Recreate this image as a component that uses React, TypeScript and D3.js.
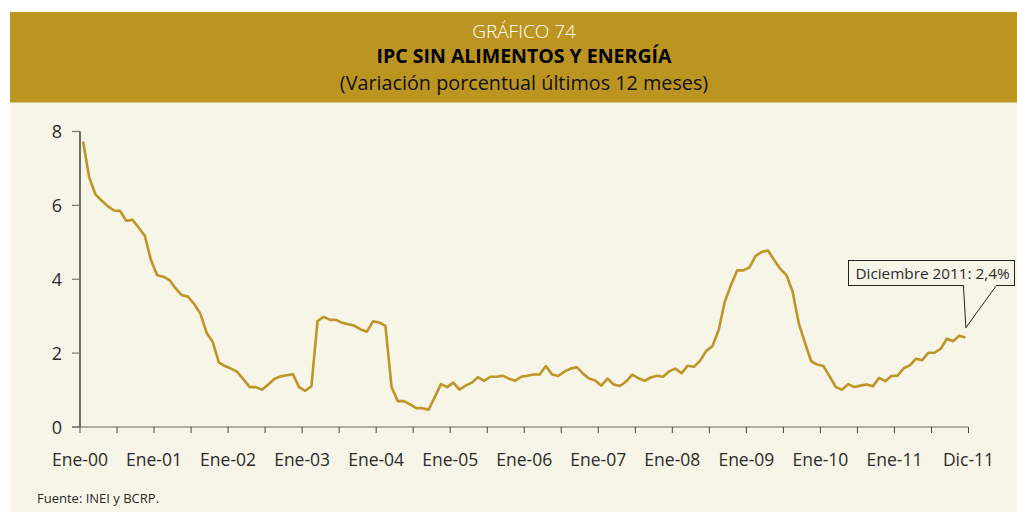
import React from "react";
import * as d3 from "d3";

const W = 1017;
const H = 512;

// Monthly values, Ene-2000 .. Dic-2011 (12-month % change)
const y2000 = [7.73, 6.75, 6.3, 6.13, 5.98, 5.86, 5.85, 5.58, 5.61, 5.4, 5.18, 4.52];
const y2001 = [4.11, 4.07, 3.98, 3.75, 3.57, 3.53, 3.33, 3.07, 2.56, 2.31, 1.75, 1.65];
const y2002 = [1.58, 1.49, 1.29, 1.08, 1.08, 1.01, 1.15, 1.3, 1.37, 1.4, 1.43, 1.08];
const y2003 = [0.98, 1.1, 2.87, 2.98, 2.9, 2.9, 2.82, 2.78, 2.74, 2.64, 2.58, 2.86];
const y2004 = [2.83, 2.74, 1.08, 0.7, 0.7, 0.61, 0.51, 0.51, 0.47, 0.81, 1.16, 1.08];
const y2005 = [1.2, 1.01, 1.12, 1.2, 1.35, 1.25, 1.36, 1.36, 1.39, 1.31, 1.25, 1.36];
const y2006 = [1.39, 1.42, 1.42, 1.65, 1.42, 1.38, 1.5, 1.58, 1.62, 1.45, 1.31, 1.26];
const y2007 = [1.12, 1.31, 1.15, 1.11, 1.23, 1.42, 1.32, 1.25, 1.34, 1.39, 1.36, 1.51];
const y2008 = [1.58, 1.46, 1.66, 1.63, 1.79, 2.06, 2.19, 2.62, 3.39, 3.84, 4.24, 4.24];
const y2009 = [4.32, 4.63, 4.74, 4.78, 4.52, 4.28, 4.11, 3.66, 2.8, 2.28, 1.78, 1.69];
const y2010 = [1.65, 1.37, 1.08, 1.01, 1.16, 1.08, 1.12, 1.15, 1.1, 1.33, 1.24, 1.38];
const y2011 = [1.39, 1.59, 1.67, 1.85, 1.81, 2.01, 2.01, 2.12, 2.39, 2.32, 2.47, 2.42];

const values = [
  ...y2000, ...y2001, ...y2002, ...y2003, ...y2004, ...y2005,
  ...y2006, ...y2007, ...y2008, ...y2009, ...y2010, ...y2011,
];

const xTickLabels = [
  "Ene-00", "Ene-01", "Ene-02", "Ene-03", "Ene-04", "Ene-05",
  "Ene-06", "Ene-07", "Ene-08", "Ene-09", "Ene-10", "Ene-11", "Dic-11",
];
const yTicks = [0, 2, 4, 6, 8];

const titleTop = "GRÁFICO 74";
const titleMain = "IPC SIN ALIMENTOS Y ENERGÍA";
const titleSub = "(Variación porcentual últimos 12 meses)";
const annotation = "Diciembre 2011: 2,4%";
const source = "Fuente: INEI y BCRP.";

const GOLD = "#BC9420";
const CREAM = "#F7F4E8";
const LINE = "#BF9527";
const TEXT = "#2b2b2b";
const FONT = "'Open Sans', 'Noto Sans', sans-serif";

export default function App() {
  const nMonths = values.length;
  const x = d3.scaleLinear().domain([0, nMonths]).range([80, 968.5]);
  const y = d3.scaleLinear().domain([0, 8]).range([427, 131.5]);

  const line = d3
    .line<number>()
    .x((_, i) => x(i + 0.5))
    .y((d) => y(d));

  const halfYearTicks = d3.range(0, nMonths + 1, 6);
  const labelPos = xTickLabels.map((_, i) => (i < xTickLabels.length - 1 ? i * 12 : nMonths));

  const lastX = x(nMonths - 0.5);
  const lastY = y(values[nMonths - 1]);
  const tipY = lastY - 10;
  const boxX = 848.5;
  const boxY = 260.5;
  const boxW = 166;
  const boxH = 25;

  return (
    <div style={{ position: "absolute", left: 0, top: 0 }}>
      <svg width={W} height={H} style={{ display: "block", fontFamily: FONT }}>
        <rect x={0} y={0} width={W} height={H} fill="#ffffff" />
        <rect x={10} y={102.5} width={W - 10} height={H - 102.5} fill={CREAM} />
        <rect x={10} y={12} width={W - 10} height={90.5} fill={GOLD} />

        <text x={524} y={37.5} textAnchor="middle" fill="#ffffff" fontSize={19} fontWeight={300}>
          {titleTop}
        </text>
        <text x={524} y={63} textAnchor="middle" fill="#000000" fontSize={19.5} fontWeight={700}>
          {titleMain}
        </text>
        <text x={524} y={89.5} textAnchor="middle" fill="#111111" fontSize={19.8}>
          {titleSub}
        </text>

        {/* y axis */}
        <line x1={80} x2={80} y1={y(8)} y2={y(0)} stroke="#111" strokeWidth={1.2} />
        {yTicks.map((t) => (
          <g key={t}>
            <line x1={72} x2={80} y1={y(t)} y2={y(t)} stroke="#777" strokeWidth={1.2} />
            <text x={62} y={y(t) + 6.5} textAnchor="end" fill={TEXT} fontSize={18}>
              {t}
            </text>
          </g>
        ))}

        {/* x axis */}
        <line x1={72} x2={x(nMonths)} y1={y(0)} y2={y(0)} stroke="#666" strokeWidth={1.2} />
        {halfYearTicks.map((m) => (
          <line key={m} x1={x(m)} x2={x(m)} y1={y(0)} y2={y(0) + 6} stroke="#444" strokeWidth={1} />
        ))}
        {xTickLabels.map((lab, i) => (
          <text key={lab} x={x(labelPos[i])} y={465.5} textAnchor="middle" fill={TEXT} fontSize={17.5}>
            {lab}
          </text>
        ))}

        <path d={line(values) || ""} fill="none" stroke={LINE} strokeWidth={2.6} strokeLinejoin="round" />

        {/* annotation */}
        <rect x={boxX} y={boxY} width={boxW} height={boxH} fill={CREAM} stroke="#222" strokeWidth={1} />
        <polyline
          points={`${lastX - 2},${boxY + boxH} ${lastX + 0.5},${tipY} ${lastX + 31},${boxY + boxH}`}
          fill={CREAM}
          stroke="#222"
          strokeWidth={1}
        />
        <line x1={lastX - 1.5} x2={lastX + 30.5} y1={boxY + boxH} y2={boxY + boxH} stroke={CREAM} strokeWidth={1.5} />
        <text x={boxX + boxW / 2 + 1} y={boxY + 18.5} textAnchor="middle" fill={TEXT} fontSize={15.3}>
          {annotation}
        </text>

        <text x={37} y={503} fill={TEXT} fontSize={13}>
          {source}
        </text>
      </svg>
    </div>
  );
}
